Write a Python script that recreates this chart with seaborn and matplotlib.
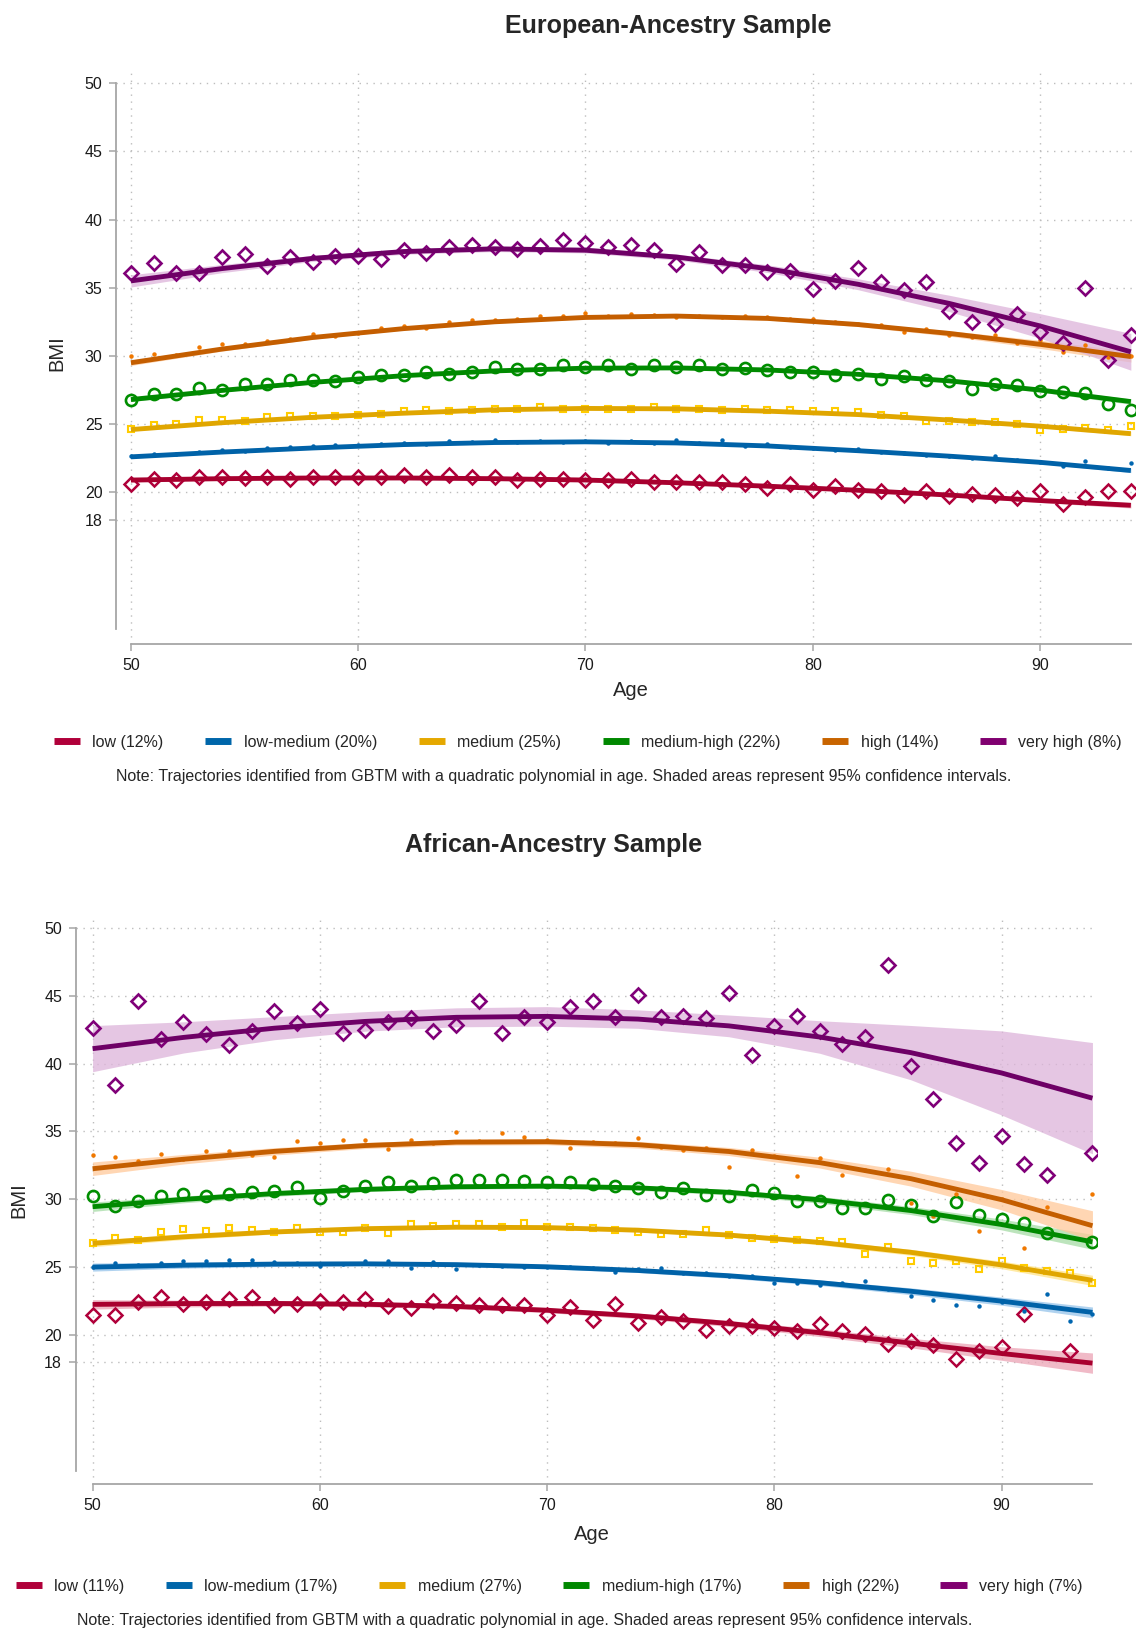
import numpy as np
import pandas as pd
import matplotlib
matplotlib.use("Agg")
import matplotlib.pyplot as plt
from matplotlib.lines import Line2D
from matplotlib import font_manager
import seaborn as sns

# ---------------- data ----------------
AGES = list(range(50, 95))
FIT_AGES = [50, 54, 58, 62, 66, 70, 74, 78, 82, 86, 90, 94]
GROUPS = ["low", "low-medium", "medium", "medium-high", "high", "very high"]
nan = np.nan

# European-ancestry sample: observed means by age (50..94)
EUR_low = [20.63, 21.0, 20.88, 21.12, 21.12, 21.07, 21.12, 21.0, 21.12, 21.12, 21.12, 21.12, 21.25, 21.12, 21.25,
           21.12, 21.12, 20.93, 21.0, 21.0, 20.88, 20.88, 21.0, 20.76, 20.76, 20.76, 20.76, 20.63, 20.34, 20.63,
           20.15, 20.44, 20.2, 20.07, 19.78, 20.07, 19.71, 19.9, 19.78, 19.59, 20.07, 19.17, 19.66, 20.07, 20.07]
EUR_lowmed = [22.64, 22.83, 22.83, 22.95, 23.08, 23.03, 23.27, 23.32, 23.37, 23.44, 23.49, 23.57, 23.61, 23.57, 23.76,
              23.69, 23.81, 23.69, 23.76, 23.69, 23.76, 23.64, 23.76, 23.64, 23.81, 23.64, 23.81, 23.4, 23.52, 23.32,
              23.27, 23.13, 23.2, 22.95, 22.9, 22.71, 22.66, 22.54, 22.64, 22.39, 22.22, 21.9, 22.27, 21.8, 22.15]
EUR_med = [24.64, 24.96, 24.98, 25.32, 25.32, 25.23, 25.52, 25.57, 25.57, 25.57, 25.64, 25.71, 25.96, 26.06, 25.96,
           26.06, 26.13, 26.13, 26.25, 26.13, 26.13, 26.13, 26.13, 26.25, 26.13, 26.13, 26.06, 26.13, 26.06, 26.06,
           25.93, 25.93, 25.89, 25.64, 25.57, 25.23, 25.23, 25.15, 25.15, 24.98, 24.54, 24.66, 24.74, 24.54, 24.88]
EUR_medhigh = [26.79, 27.23, 27.23, 27.67, 27.52, 27.91, 27.91, 28.25, 28.2, 28.16, 28.45, 28.62, 28.62, 28.82, 28.64,
               28.82, 29.18, 29.06, 29.06, 29.3, 29.18, 29.35, 29.06, 29.35, 29.18, 29.35, 29.06, 29.13, 28.94, 28.82,
               28.82, 28.57, 28.64, 28.28, 28.52, 28.2, 28.13, 27.59, 27.96, 27.84, 27.42, 27.35, 27.28, 26.45, 26.0]
EUR_high = [30.01, 30.16, 30.04, 30.65, 30.84, 30.84, 31.09, 31.26, 31.58, 31.43, 31.7, 32.06, 32.16, 32.06, 32.45,
            32.6, 32.6, 32.72, 32.92, 32.92, 33.16, 32.92, 33.04, 33.02, 32.85, 32.92, 32.85, 32.92, 32.85, 32.7,
            32.72, 32.48, 32.36, 32.23, 31.75, 32.0, 31.55, 31.38, 31.55, 30.94, 31.18, 30.28, 30.77, 29.9, 29.96]
EUR_vhigh = [36.07, 36.8, 36.07, 36.07, 37.24, 37.48, 36.56, 37.24, 36.87, 37.36, 37.36, 37.12, 37.73, 37.56, 37.97,
             38.1, 37.97, 37.85, 38.05, 38.53, 38.29, 37.97, 38.1, 37.73, 36.75, 37.6, 36.63, 36.7, 36.14, 36.2,
             34.92, 35.46, 36.43, 35.4, 34.8, 35.4, 33.28, 32.48, 32.36, 33.09, 31.75, 30.94, 34.99, 29.67, 31.55]

# European-ancestry sample: fitted trajectories and 95% CI half-widths at FIT_AGES
EUR_low_fit = [20.9, 21.0, 21.05, 21.05, 21.0, 20.9, 20.7, 20.45, 20.15, 19.8, 19.4, 19.05]
EUR_lowmed_fit = [22.6, 22.95, 23.25, 23.5, 23.65, 23.7, 23.62, 23.4, 23.05, 22.65, 22.2, 21.6]
EUR_med_fit = [24.6, 25.1, 25.5, 25.8, 26.05, 26.15, 26.12, 25.95, 25.7, 25.3, 24.85, 24.3]
EUR_medhigh_fit = [26.8, 27.47, 28.06, 28.55, 28.9, 29.1, 29.12, 28.97, 28.65, 28.17, 27.5, 26.65]
EUR_high_fit = [29.5, 30.5, 31.35, 32.0, 32.5, 32.82, 32.92, 32.75, 32.3, 31.65, 30.85, 29.95]
EUR_vhigh_fit = [35.5, 36.4, 37.15, 37.65, 37.85, 37.75, 37.25, 36.4, 35.25, 33.85, 32.2, 30.3]
EUR_low_ci = [0.15, 0.1, 0.08, 0.08, 0.08, 0.08, 0.08, 0.08, 0.1, 0.12, 0.15, 0.2]
EUR_lowmed_ci = [0.1, 0.08, 0.06, 0.06, 0.06, 0.06, 0.06, 0.06, 0.07, 0.08, 0.1, 0.15]
EUR_med_ci = [0.1, 0.08, 0.06, 0.06, 0.06, 0.06, 0.06, 0.06, 0.07, 0.08, 0.1, 0.15]
EUR_medhigh_ci = [0.15, 0.1, 0.08, 0.08, 0.08, 0.08, 0.08, 0.08, 0.1, 0.12, 0.15, 0.2]
EUR_high_ci = [0.2, 0.15, 0.12, 0.1, 0.1, 0.1, 0.1, 0.12, 0.15, 0.2, 0.3, 0.4]
EUR_vhigh_ci = [0.45, 0.3, 0.22, 0.2, 0.2, 0.2, 0.22, 0.28, 0.4, 0.6, 0.9, 1.35]

# African-ancestry sample: observed means by age (50..94)
AFR_low = [21.46, 21.46, 22.39, 22.76, 22.27, 22.39, 22.63, 22.8, 22.19, 22.27, 22.51, 22.39, 22.63, 22.14, 21.95,
           22.51, 22.32, 22.19, 22.19, 22.19, 21.46, 22.07, 21.1, 22.27, 20.85, 21.29, 21.05, 20.39, 20.68, 20.68,
           20.49, 20.32, 20.8, 20.32, 20.07, 19.34, 19.58, 19.22, 18.2, 18.85, 19.09, 21.54, nan, 18.85, nan]
AFR_lowmed = [25.0, 25.3, 25.12, 25.3, 25.42, 25.42, 25.5, 25.55, 25.37, 25.33, 25.09, 25.25, 25.42, 25.42, 24.96,
              25.37, 24.84, 25.13, 25.05, 25.0, 25.0, 25.0, 24.93, 24.64, 24.84, 24.96, 24.54, 24.59, 24.35, 24.35,
              23.86, 23.81, 23.66, 23.86, 23.98, 23.37, 22.88, 22.59, 22.2, 22.1, 22.4, 21.78, 23.05, 21.05, 21.54]
AFR_med = [26.77, 27.13, 27.01, 27.62, 27.82, 27.69, 27.87, 27.74, 27.62, 27.87, 27.62, 27.62, 27.87, 27.5, 28.18,
           28.06, 28.18, 28.18, 27.94, 28.23, 27.94, 27.94, 27.87, 27.77, 27.57, 27.45, 27.47, 27.77, 27.33, 27.16,
           27.08, 26.96, 26.91, 26.86, 26.0, 26.5, 25.45, 25.32, 25.45, 24.88, 25.45, 24.96, 24.71, 24.59, 23.81]
AFR_medhigh = [30.26, 29.53, 29.89, 30.26, 30.38, 30.21, 30.38, 30.5, 30.58, 30.87, 30.09, 30.58, 31.0, 31.24, 30.94,
               31.19, 31.43, 31.43, 31.43, 31.31, 31.24, 31.24, 31.16, 30.94, 30.82, 30.53, 30.82, 30.28, 30.21, 30.65,
               30.45, 29.84, 29.89, 29.36, 29.36, 29.97, 29.55, 28.74, 29.77, 28.82, 28.55, 28.26, 27.52, nan, 26.84]
AFR_high = [33.24, 33.12, 32.82, 33.31, 33.0, 33.56, 33.56, 33.24, 33.12, 34.29, 34.17, 34.36, 34.36, 33.68, 34.36,
            34.17, 34.97, 34.29, 34.85, 34.61, 34.36, 33.8, 34.19, 34.12, 34.49, 33.88, 33.63, 33.75, 32.36, 33.63,
            33.19, 31.68, 33.07, 31.8, 32.12, 32.24, 29.72, 28.74, 30.4, 27.65, 30.04, 26.42, 29.43, nan, 30.4]
AFR_vhigh = [42.65, 38.44, 44.62, 41.79, 43.09, 42.16, 41.38, 42.4, 43.89, 42.96, 44.06, 42.28, 42.47, 43.09, 43.33,
             42.4, 42.84, 44.62, 42.28, 43.45, 43.09, 44.14, 44.62, 43.45, 45.09, 43.4, 43.53, 43.33, 45.24, 40.64,
             42.74, 43.53, 42.38, 41.45, 41.94, 47.24, 39.79, 37.37, 34.12, 32.7, 34.66, 32.58, 31.8, nan, 33.39]

# African-ancestry sample: fitted trajectories and 95% CI half-widths at FIT_AGES
AFR_low_fit = [22.25, 22.31, 22.32, 22.26, 22.1, 21.82, 21.4, 20.84, 20.16, 19.4, 18.63, 17.92]
AFR_lowmed_fit = [25.0, 25.14, 25.22, 25.24, 25.18, 25.02, 24.75, 24.36, 23.85, 23.22, 22.49, 21.66]
AFR_med_fit = [26.75, 27.23, 27.59, 27.83, 27.94, 27.91, 27.72, 27.36, 26.82, 26.09, 25.16, 24.02]
AFR_medhigh_fit = [29.45, 29.99, 30.42, 30.73, 30.92, 30.97, 30.84, 30.51, 29.96, 29.17, 28.14, 26.86]
AFR_high_fit = [32.25, 32.95, 33.53, 33.96, 34.21, 34.24, 34.02, 33.52, 32.7, 31.52, 29.97, 28.05]
AFR_vhigh_fit = [41.1, 41.93, 42.61, 43.11, 43.41, 43.48, 43.28, 42.78, 41.96, 40.81, 39.31, 37.45]
AFR_low_ci = [0.35, 0.25, 0.2, 0.18, 0.18, 0.18, 0.2, 0.22, 0.28, 0.35, 0.5, 0.75]
AFR_lowmed_ci = [0.3, 0.22, 0.18, 0.15, 0.15, 0.15, 0.15, 0.18, 0.2, 0.25, 0.3, 0.4]
AFR_med_ci = [0.25, 0.2, 0.15, 0.13, 0.13, 0.13, 0.13, 0.15, 0.18, 0.22, 0.28, 0.38]
AFR_medhigh_ci = [0.35, 0.25, 0.2, 0.17, 0.17, 0.17, 0.18, 0.2, 0.25, 0.3, 0.4, 0.55]
AFR_high_ci = [0.5, 0.35, 0.27, 0.22, 0.22, 0.22, 0.25, 0.3, 0.4, 0.55, 0.75, 1.1]
AFR_vhigh_ci = [1.7, 1.15, 0.85, 0.72, 0.7, 0.72, 0.68, 0.8, 1.2, 2.0, 3.1, 4.1]

EUR_PCT = ["12%", "20%", "25%", "22%", "14%", "8%"]
AFR_PCT = ["11%", "17%", "27%", "17%", "22%", "7%"]

X_TICKS = [50, 60, 70, 80, 90]
Y_TICKS = [18, 20, 25, 30, 35, 40, 45, 50]
NOTE = ("Note: Trajectories identified from GBTM with a quadratic polynomial in age. "
        "Shaded areas represent 95% confidence intervals.")

# ---------------- styles ----------------
LINE_COL = ["#A8002F", "#0062A8", "#E0A600", "#008A00", "#C45E00", "#6E0066"]
MARK_COL = ["#B0003A", "#0066B0", "#FFCC00", "#008E00", "#F07800", "#800078"]
FILL_COL = ["#EBA3B5", "#96C4EA", "#FFE487", "#A6DCA6", "#FFC99A", "#DDB4DA"]
LEG_COL = ["#B0003A", "#0066AA", "#E5A800", "#008800", "#C86400", "#800070"]
MARKERS = ["D", "o", "s", "o", "o", "D"]
MSIZE = [7.0, 3.2, 5.0, 8.0, 3.2, 7.5]
MFACE = ["none", "fill", "none", "none", "fill", "none"]
MEW = [1.8, 0.0, 1.5, 1.9, 0.0, 1.9]

names = {f.name for f in font_manager.fontManager.ttflist}
TITLE_FAMILY = ["Liberation Sans Narrow", "Liberation Sans", "DejaVu Sans"] if "Liberation Sans Narrow" in names \
    else ["Liberation Sans", "DejaVu Sans"]

sns.set_style("white")
plt.rcParams["font.family"] = ["Liberation Sans", "DejaVu Sans"]

W, H = 1140, 1630
fig = plt.figure(figsize=(W / 100, H / 100), dpi=100)


def fx(px):
    return px / W


def fy(py):
    return 1 - py / H


def panel(ax, obs, fits, cis, xlim, ylim):
    for i in range(6):
        f = np.array(fits[i])
        c = np.array(cis[i])
        ax.fill_between(FIT_AGES, f - c, f + c, color=FILL_COL[i], alpha=0.75, lw=0, zorder=1)
    for i in range(6):
        df = pd.DataFrame({"age": AGES, "bmi": obs[i]}).dropna()
        kw = dict(marker=MARKERS[i], markersize=MSIZE[i], linestyle="None")
        if MFACE[i] == "none":
            kw.update(markerfacecolor="none", markeredgecolor=MARK_COL[i], markeredgewidth=MEW[i])
        else:
            kw.update(markerfacecolor=MARK_COL[i], markeredgecolor=MARK_COL[i], markeredgewidth=0)
        sns.lineplot(data=df, x="age", y="bmi", ax=ax, color=MARK_COL[i], errorbar=None,
                     zorder=3, legend=False, **kw)
    for i in range(6):
        dfl = pd.DataFrame({"age": FIT_AGES, "bmi": fits[i]})
        sns.lineplot(data=dfl, x="age", y="bmi", ax=ax, color=LINE_COL[i], linewidth=3.5,
                     errorbar=None, zorder=4, legend=False, solid_capstyle="butt",
                     solid_joinstyle="round")
    ax.set_xlim(*xlim)
    ax.set_ylim(*ylim)
    ax.set_xticks(X_TICKS)
    ax.set_yticks(Y_TICKS)
    ax.set_xlabel("")
    ax.set_ylabel("")
    ax.grid(True, linestyle=(0, (1, 4)), color="#bdbdbd", linewidth=1.0)
    ax.set_axisbelow(True)
    for s in ["top", "right"]:
        ax.spines[s].set_visible(False)
    for s in ["left", "bottom"]:
        ax.spines[s].set_color("#a6a6a6")
        ax.spines[s].set_linewidth(1.3)
    ax.spines["left"].set_bounds(10, 50)
    ax.spines["bottom"].set_bounds(50, 94)
    ax.tick_params(axis="both", direction="out", length=5, width=1.1, color="#a6a6a6",
                   labelsize=11.5, labelcolor="#1a1a1a", pad=5, left=True, bottom=True)


def legend(pcts, cx, cy):
    handles = [Line2D([0], [0], color=LEG_COL[i], lw=5, solid_capstyle="butt") for i in range(6)]
    labels = [f"{g} ({p})" for g, p in zip(GROUPS, pcts)]
    fig.legend(handles, labels, loc="center", bbox_to_anchor=(fx(cx), fy(cy)), ncol=6, frameon=False,
               fontsize=11.5, handlelength=1.63, handletextpad=0.78, columnspacing=2.6,
               borderaxespad=0, borderpad=0)


# ---- top panel ----
ax1 = fig.add_axes([fx(116.4), fy(644), fx(1135.4 - 116.4), (644 - 73) / H])
panel(ax1,
      [EUR_low, EUR_lowmed, EUR_med, EUR_medhigh, EUR_high, EUR_vhigh],
      [EUR_low_fit, EUR_lowmed_fit, EUR_med_fit, EUR_medhigh_fit, EUR_high_fit, EUR_vhigh_fit],
      [EUR_low_ci, EUR_lowmed_ci, EUR_med_ci, EUR_medhigh_ci, EUR_high_ci, EUR_vhigh_ci],
      (49.36, 94.2), (8.88, 50.74))
fig.text(fx(668), fy(26), "European-Ancestry Sample", ha="center", va="center", fontsize=18,
         fontweight="bold", family=TITLE_FAMILY)
fig.text(fx(57), fy(353), "BMI", ha="center", va="center", rotation=90, fontsize=14.5)
fig.text(fx(631), fy(691), "Age", ha="center", va="center", fontsize=14.5)
legend(EUR_PCT, 588, 742)
fig.text(fx(564), fy(777), NOTE, ha="center", va="center", fontsize=11.5)

# ---- bottom panel ----
ax2 = fig.add_axes([fx(76), fy(1484), fx(1097 - 76), (1484 - 914.5) / H])
panel(ax2,
      [AFR_low, AFR_lowmed, AFR_med, AFR_medhigh, AFR_high, AFR_vhigh],
      [AFR_low_fit, AFR_lowmed_fit, AFR_med_fit, AFR_medhigh_fit, AFR_high_fit, AFR_vhigh_fit],
      [AFR_low_ci, AFR_lowmed_ci, AFR_med_ci, AFR_medhigh_ci, AFR_high_ci, AFR_vhigh_ci],
      (49.27, 94.2), (9.01, 50.99))
fig.text(fx(554), fy(845), "African-Ancestry Sample", ha="center", va="center", fontsize=18,
         fontweight="bold", family=TITLE_FAMILY)
fig.text(fx(19), fy(1200), "BMI", ha="center", va="center", rotation=90, fontsize=14.5)
fig.text(fx(592), fy(1535), "Age", ha="center", va="center", fontsize=14.5)
legend(AFR_PCT, 549, 1586)
fig.text(fx(525), fy(1620), NOTE, ha="center", va="center", fontsize=11.5)

fig.savefig("out.png", dpi=100)
